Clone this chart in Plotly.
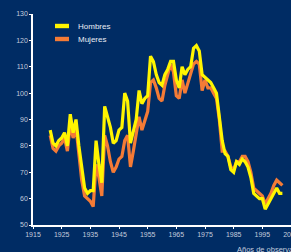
import plotly.graph_objects as go

years = list(range(1921, 2003))
hombres = [86, 81, 80, 82, 83, 85, 80, 92, 85, 90,
           80, 71, 64, 62, 63, 63, 82, 73, 66, 95,
           91, 87, 81, 82, 86, 87, 100, 97, 81, 85,
           90, 101, 96, 98, 99, 114, 112, 107, 104, 103,
           107, 109, 112, 112, 105, 102, 110, 107, 109, 110,
           117, 118, 116, 107, 106, 105, 104, 102, 100, 91,
           82, 77, 76, 71, 70, 74, 73, 75, 74, 72,
           68, 62, 61, 60, 60, 56, 58, 60, 62, 64,
           62, 62]
mujeres = [84, 79, 78, 80, 81, 83, 78, 88, 83, 87,
           77, 67, 61, 60, 59, 57, 73, 68, 61, 84,
           80, 74, 70, 72, 75, 76, 82, 84, 72, 78,
           84, 91, 86, 90, 93, 104, 105, 102, 98, 97,
           103, 107, 111, 108, 99, 98, 105, 100, 104, 107,
           111, 112, 111, 101, 105, 102, 102, 100, 98, 90,
           78, 78, 76, 72, 71, 74, 74, 76, 76, 74,
           70, 64, 63, 62, 61, 58, 60, 62, 65, 67,
           66, 65]
series_names = ["Hombres", "Mujeres"]
series_colors = ["#FFF500", "#F47B36"]
x_ticks = [1915, 1925, 1935, 1945, 1955, 1965, 1975, 1985, 1995, 2005]
y_ticks = [50, 60, 70, 80, 90, 100, 110, 120, 130]

W, H = 291, 252
ml, mr, mt, mb = 33, 0, 14, 27
pw, ph = W - ml - mr, H - mt - mb

def px_x(p):
    return (p - ml) / pw

def px_y(p):
    return (H - mb - p) / ph

bg = "rgb(0,44,100)"
tick_col = "#C2CBDC"

fig = go.Figure()
fig.add_trace(go.Scatter(x=years, y=mujeres, mode="lines", name=series_names[1],
                         line=dict(color=series_colors[1], width=3.2), showlegend=False,
                         cliponaxis=False))
fig.add_trace(go.Scatter(x=years, y=hombres, mode="lines", name=series_names[0],
                         line=dict(color=series_colors[0], width=3.2), showlegend=False,
                         cliponaxis=False))

shapes = []
annotations = []
for i, (name, col) in enumerate(zip(series_names, series_colors)):
    yc = 26 + 13 * i
    shapes.append(dict(type="rect", xref="paper", yref="paper",
                       x0=px_x(55), x1=px_x(69), y0=px_y(yc + 2.2), y1=px_y(yc - 2.2),
                       fillcolor=col, line=dict(width=0), layer="above"))
    annotations.append(dict(text=name, xref="paper", yref="paper", x=px_x(76), y=px_y(yc),
                            xanchor="left", yanchor="middle", showarrow=False,
                            font=dict(size=8, color="#E8ECF4", family="Liberation Sans, Arial")))

annotations.append(dict(text="Años de observación", xref="paper", yref="paper",
                        x=px_x(235), y=px_y(249), xanchor="left", yanchor="middle",
                        showarrow=False,
                        font=dict(size=7.5, color=tick_col, family="Liberation Sans, Arial")))

fig.update_layout(
    width=W, height=H,
    margin=dict(l=ml, r=mr, t=mt, b=mb, autoexpand=False),
    paper_bgcolor=bg, plot_bgcolor=bg,
    shapes=shapes, annotations=annotations,
    font=dict(family="Liberation Sans, Arial", size=7, color=tick_col),
)
fig.update_xaxes(range=[1915, 2005], tickvals=x_ticks, showgrid=False, zeroline=False,
                 automargin=False, ticklabeloverflow="allow",
                 showline=True, linecolor="white", linewidth=1.5,
                 ticks="outside", ticklen=2, tickcolor="white", tickwidth=1,
                 tickfont=dict(size=7, color=tick_col))
fig.update_yaxes(range=[50, 130], tickvals=y_ticks, showgrid=False, zeroline=False,
                 automargin=False, ticklabeloverflow="allow",
                 showline=True, linecolor="white", linewidth=1.5,
                 ticks="outside", ticklen=2, tickcolor="white", tickwidth=1,
                 tickfont=dict(size=7, color=tick_col))

fig.write_html("out.html", config={"displayModeBar": False},
               post_script="document.body.style.margin='0';document.body.style.background='rgb(0,44,100)';")
